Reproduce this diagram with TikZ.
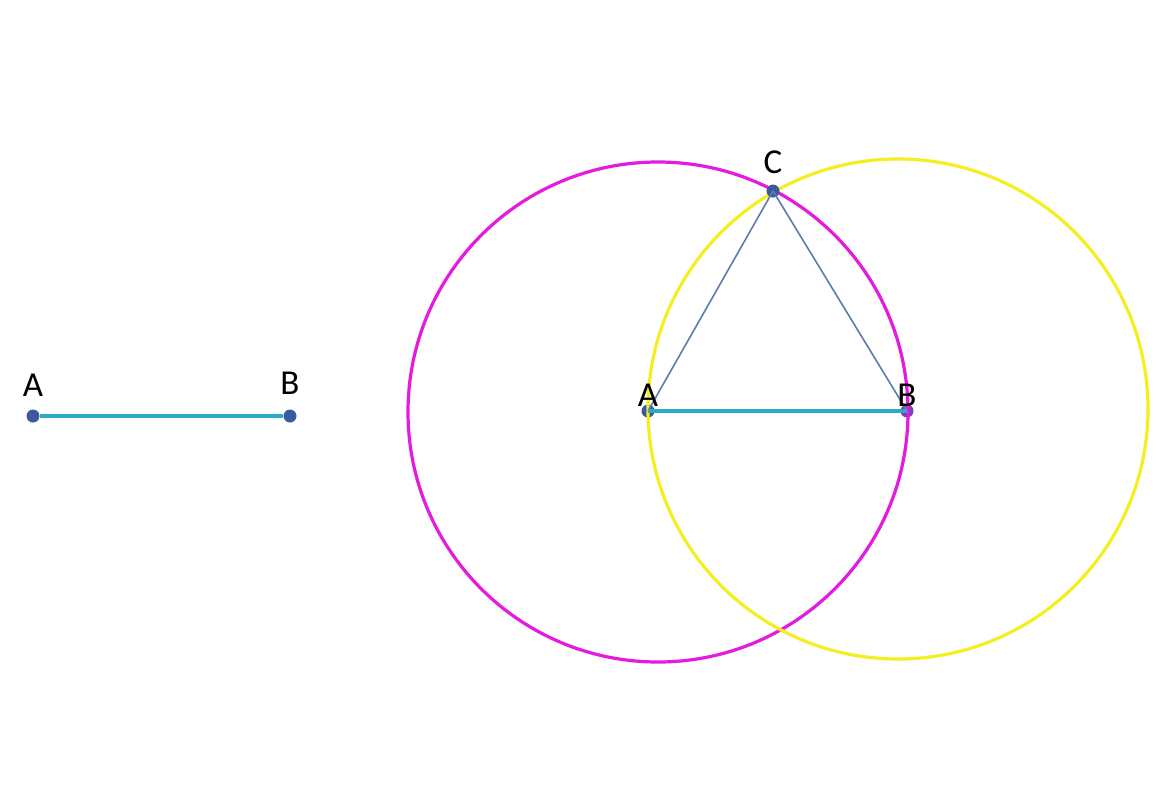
\documentclass[tikz,border=0pt]{standalone}
\usepackage{fontspec}
\setmainfont{Carlito}
\usepackage{tikz}
\usetikzlibrary{positioning}
\usepackage{xcolor}
\definecolor{segblue}{HTML}{2EA8C8}
\definecolor{sideblue}{HTML}{5A7DB0}
\definecolor{ptblue}{HTML}{3A59A0}
\definecolor{magcol}{HTML}{E41BDF}
\definecolor{yelcol}{HTML}{F4EE22}

\begin{document}
\begin{tikzpicture}[x=1pt,y=-1pt,
                pt/.style = {circle, fill=ptblue, inner sep=0pt, minimum size=13pt},
                lbl/.style = {inner sep=1pt, font=\fontsize{35}{38}\selectfont},
                seg/.style = {segblue, line width=3.5pt},
                side/.style = {sideblue, line width=1.6pt},
                magcirc/.style = {magcol, line width=3.2pt},
                yelcirc/.style = {yelcol, line width=3.2pt}
                ]
                \fill[white] (0,0) rectangle (1170,793);
                \useasboundingbox (0,0) rectangle (1170,793);
                % given segment
                \node[pt] (A1) at (33,416) {};
                \node[pt] (B1) at (290,416) {};
                \draw[seg] (A1) -- (B1);
                \node[lbl, above=12pt of A1] {A};
                \node[lbl, above=14pt of B1] {B};
                % construction
                \node[pt] (A2) at (648,411) {};
                \node[pt, fill=ptblue!60!magcol] (B2) at (907,411) {};
                \draw[magcirc] (658,412) circle[radius=250];
                \draw[yelcirc] (898,409) circle[radius=250];
                \node[pt] (C) at (773,191) {};
                \draw[side] (A2.center) -- (C.center) -- (B2.center);
                \draw[seg] (A2.center) -- (B2.center);
                \node[lbl, above=-3pt of A2] {A};
                \node[lbl, above=-3pt of B2] {B};
                \node[lbl, above=9pt of C] {C};
            \end{tikzpicture}
\end{document}
